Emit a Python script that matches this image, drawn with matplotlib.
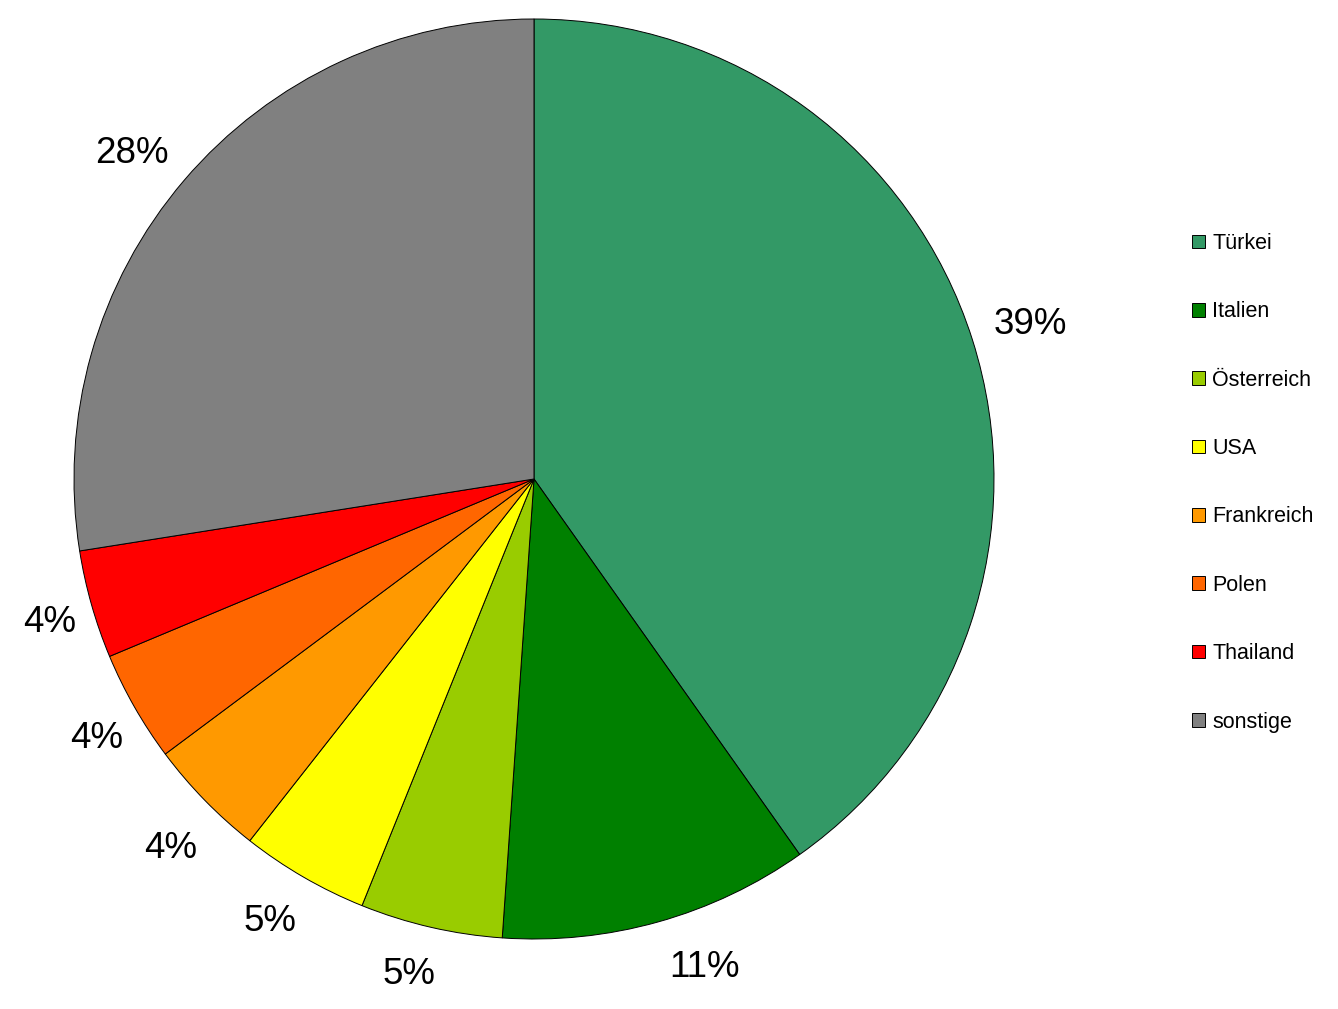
import numpy as np
import matplotlib
matplotlib.use('Agg')
import matplotlib.pyplot as plt
from matplotlib.patches import Patch

plt.rcParams['font.family'] = ['Liberation Sans', 'DejaVu Sans']

countries = ['Türkei', 'Italien', 'Österreich', 'USA', 'Frankreich', 'Polen', 'Thailand', 'sonstige']
shares = [40.2, 10.9, 5.0, 4.5, 4.2, 3.9, 3.8, 27.5]
pct_labels = ['39%', '11%', '5%', '5%', '4%', '4%', '4%', '28%']
colors = ['#339966', '#008000', '#99CC00', '#FFFF00', '#FF9900', '#FF6600', '#FF0000', '#808080']

# small pixel nudges for the outside labels (Excel-style placement)
label_nudge = [(1, -3), (30, 12), (-8, 11), (-4, 7), (9, -7), (14, -2), (16, -2), (-7, -12)]

W, H = 1338, 1009
fig = plt.figure(figsize=(W / 100, H / 100), dpi=100)

# pie centre and radius in pixels
cx, cy, r = 534, 479, 460
ax = fig.add_axes([(cx - r) / W, (H - cy - r) / H, 2 * r / W, 2 * r / H])
wedges, _ = ax.pie(shares, colors=colors, startangle=90, counterclock=False,
                   radius=1.0, wedgeprops=dict(edgecolor='black', linewidth=0.7))
ax.set_xlim(-1, 1)
ax.set_ylim(-1, 1)
ax.set_aspect('equal')
ax.axis('off')

for w, lab, (nx, ny) in zip(wedges, pct_labels, label_nudge):
    ang = np.deg2rad((w.theta1 + w.theta2) / 2)
    ax.text(1.13 * np.cos(ang) + nx / r, 1.13 * np.sin(ang) + ny / r, lab,
            ha='center', va='center', fontsize=26.5, clip_on=False)

handles = [Patch(facecolor=c, edgecolor='black', linewidth=0.7) for c in colors]
fig.legend(handles, countries, loc='upper left', bbox_to_anchor=(1192 / W, (H - 233) / H),
           frameon=False, fontsize=15.5, handlelength=0.6, handleheight=0.6,
           handletextpad=0.33, labelspacing=2.2, borderpad=0, borderaxespad=0)

fig.savefig('out.png', dpi=100, facecolor='white')
